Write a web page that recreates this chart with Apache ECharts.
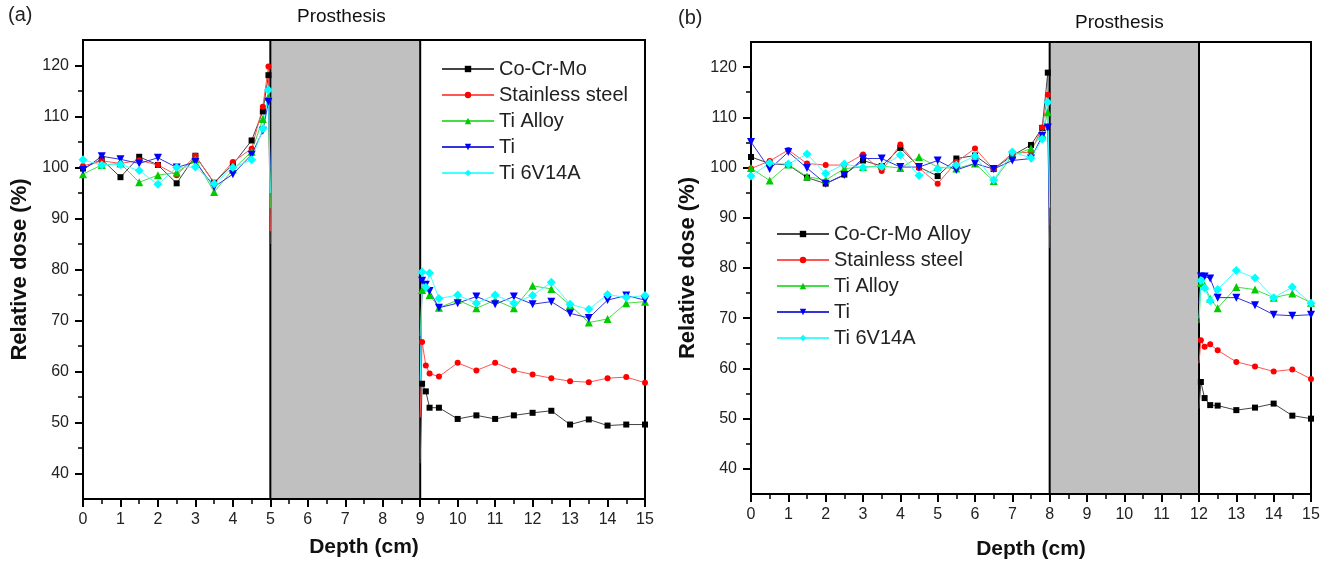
<!DOCTYPE html>
<html>
<head>
<meta charset="utf-8">
<script src="https://cdn.jsdelivr.net/npm/echarts@6/dist/echarts.min.js"></script>
<style>
html,body{margin:0;padding:0;background:#fff;}
#c{width:1330px;height:565px;}
</style>
</head>
<body>
<div id="c"></div>
<script>
// ---------- DATA ----------
// Panel (a): prosthesis 5-9 cm
const prosthesisA = [5, 9];
const xPreA  = [0, 0.5, 1, 1.5, 2, 2.5, 3, 3.5, 4, 4.5, 4.8, 4.95, 5];
const xPostA = [9, 9.05, 9.15, 9.25, 9.5, 10, 10.5, 11, 11.5, 12, 12.5, 13, 13.5, 14, 14.5, 15];
const coCrMoPreA   = [99.8, 101.6, 98.1, 102.1, 100.5, 96.9, 102.3, 97.0, 100.6, 105.3, 111.0, 118.1, 85.0];
const steelPreA    = [100.3, 101.3, 100.8, 101.4, 100.5, 98.5, 102.3, 97.0, 101.1, 103.7, 111.9, 119.8, 87.5];
const tiAlloyPreA  = [98.7, 100.5, 100.8, 97.1, 98.5, 99.0, 101.6, 95.2, 99.6, 103.1, 109.5, 113.8, 92.0];
const tiPreA       = [99.5, 102.2, 101.6, 100.8, 101.9, 100.0, 101.1, 96.2, 98.7, 102.5, 107.2, 112.9, 100.0];
const ti6PreA      = [101.5, 100.5, 100.6, 99.4, 96.7, 100.0, 100.1, 96.8, 100.0, 101.5, 107.6, 115.2, 95.0];
const coCrMoPostA  = [42.0, 57.6, 56.1, 52.9, 52.9, 50.7, 51.4, 50.7, 51.4, 51.9, 52.3, 49.6, 50.6, 49.4, 49.6, 49.6];
const steelPostA   = [51.0, 65.8, 61.2, 59.6, 59.0, 61.7, 60.2, 61.7, 60.2, 59.4, 58.7, 58.1, 57.9, 58.7, 58.9, 57.8];
const tiAlloyPostA = [67.0, 76.0, 76.5, 75.0, 72.5, 74.0, 72.4, 74.0, 72.4, 76.8, 76.2, 73.0, 69.6, 70.3, 73.4, 73.7];
const tiPostA      = [57.0, 77.8, 77.0, 75.8, 72.5, 73.4, 74.7, 73.2, 74.7, 73.2, 73.7, 71.4, 70.5, 74.0, 74.9, 74.0];
const ti6PostA     = [57.0, 79.5, 76.5, 79.3, 74.3, 75.0, 73.4, 75.0, 73.4, 74.9, 77.5, 73.2, 72.2, 75.1, 74.5, 74.9];

// Panel (b): prosthesis 8-12 cm
const prosthesisB = [8, 12];
const xPreB  = [0, 0.5, 1, 1.5, 2, 2.5, 3, 3.5, 4, 4.5, 5, 5.5, 6, 6.5, 7, 7.5, 7.8, 7.95, 8];
const xPostB = [12, 12.05, 12.15, 12.3, 12.5, 13, 13.5, 14, 14.5, 15];
const coCrMoPreB   = [102.1, 100.8, 100.5, 98.0, 96.8, 98.6, 101.4, 100.3, 103.9, 100.1, 98.3, 101.8, 102.4, 99.7, 102.4, 104.5, 107.9, 118.9, 95.0];
const steelPreB    = [99.8, 101.3, 103.5, 100.8, 100.5, 100.5, 102.6, 99.3, 104.6, 99.9, 96.8, 101.1, 103.8, 99.7, 102.8, 103.1, 108.0, 114.5, 88.4];
const tiAlloyPreB  = [99.9, 97.4, 100.6, 98.2, 97.5, 99.8, 100.1, 100.3, 99.9, 102.1, 100.1, 99.8, 100.8, 97.3, 102.4, 103.8, 106.7, 111.0, 90.0];
const tiPreB       = [105.1, 99.7, 103.1, 99.9, 96.8, 98.5, 101.8, 101.8, 100.1, 100.1, 101.4, 99.5, 100.8, 99.7, 101.4, 101.8, 106.3, 108.0, 84.0];
const ti6PreB      = [98.3, 100.9, 100.7, 102.7, 98.8, 100.7, 100.0, 100.2, 102.5, 98.4, 99.7, 100.5, 102.3, 97.5, 103.1, 101.9, 105.7, 113.0, 92.0];
const coCrMoPostB  = [52.0, 57.3, 54.1, 52.7, 52.6, 51.7, 52.2, 53.0, 50.6, 50.0];
const steelPostB   = [61.0, 65.6, 64.3, 64.8, 63.6, 61.3, 60.4, 59.4, 59.8, 57.9];
const tiAlloyPostB = [69.0, 77.0, 76.5, 73.9, 72.0, 76.2, 75.7, 74.1, 74.9, 73.1];
const tiPostB      = [73.0, 78.3, 78.3, 77.9, 74.1, 74.1, 72.6, 70.7, 70.5, 70.7];
const ti6PostB     = [70.0, 77.5, 76.0, 73.5, 75.7, 79.5, 78.0, 74.1, 76.2, 73.0];

const namesA = ['Co-Cr-Mo', 'Stainless steel', 'Ti Alloy', 'Ti', 'Ti 6V14A'];
const namesB = ['Co-Cr-Mo Alloy', 'Stainless steel', 'Ti Alloy', 'Ti', 'Ti 6V14A'];
const yMajorTicks = [40, 50, 60, 70, 80, 90, 100, 110, 120];
const yMinorTicks = [45, 55, 65, 75, 85, 95, 105, 115];
const xAxisLabel = 'Depth (cm)';
const yAxisLabel = 'Relative dose (%)';
const panelTitle = 'Prosthesis';

// ---------- STYLE ----------
const FONT = "'Liberation Sans', Arial, sans-serif";
const NARROW = "'Liberation Sans Narrow', 'Arial Narrow', 'Liberation Sans', sans-serif";
const styles = [
  {line: '#444444', mark: '#000000', symbol: 'rect', size: 6, rot: 0},
  {line: '#ff5555', mark: '#ff0000', symbol: 'circle', size: 6, rot: 0},
  {line: '#44dd44', mark: '#00cc00', symbol: 'triangle', size: 8, rot: 0},
  {line: '#3333dd', mark: '#0000ff', symbol: 'triangle', size: 8, rot: 180},
  {line: '#44ffff', mark: '#00ffff', symbol: 'diamond', size: 9, rot: 0}
];

// points lying on the prosthesis boundary are drawn without a marker
function zip(xs, ys, hideIndex) {
  return xs.map((x, i) => i === hideIndex ? {value: [x, ys[i]], symbol: 'none'} : [x, ys[i]]);
}

const seriesDefsA = [
  [coCrMoPreA, coCrMoPostA], [steelPreA, steelPostA], [tiAlloyPreA, tiAlloyPostA], [tiPreA, tiPostA], [ti6PreA, ti6PostA]
];
const seriesDefsB = [
  [coCrMoPreB, coCrMoPostB], [steelPreB, steelPostB], [tiAlloyPreB, tiAlloyPostB], [tiPreB, tiPostB], [ti6PreB, ti6PostB]
];

function makeSeries(defs, names, xPre, xPost, gi) {
  const out = [];
  defs.forEach((d, i) => {
    const s = styles[i];
    [[xPre, d[0], xPre.length - 1], [xPost, d[1], 0]].forEach(seg => {
      out.push({
        type: 'line', name: names[i], xAxisIndex: gi, yAxisIndex: gi * 2,
        data: zip(seg[0], seg[1], seg[2]),
        symbol: s.symbol, symbolSize: s.size, symbolRotate: s.rot, showSymbol: true,
        lineStyle: {color: s.line, width: 1},
        itemStyle: {color: s.mark},
        animation: false, z: 3
      });
    });
  });
  return out;
}

function prosthesisSeries(range, gi) {
  return {
    type: 'line', xAxisIndex: gi, yAxisIndex: gi * 2, data: [], silent: true, z: 10,
    markArea: {
      silent: true,
      itemStyle: {color: '#c0c0c0', borderColor: '#000', borderWidth: 2},
      data: [[{xAxis: range[0]}, {xAxis: range[1]}]]
    }
  };
}

const grids = [
  {left: 83, top: 40, width: 562, height: 459, show: true, borderColor: '#000', borderWidth: 2, backgroundColor: 'transparent'},
  {left: 751, top: 42, width: 560, height: 459, show: true, borderColor: '#000', borderWidth: 2, backgroundColor: 'transparent'}
];

function xAxisFor(gi, gap) {
  return {
    gridIndex: gi, type: 'value', min: 0, max: 15, interval: 1,
    name: xAxisLabel, nameLocation: 'middle', nameGap: gap,
    nameTextStyle: {fontFamily: FONT, fontSize: 21, fontWeight: 'bold', color: '#111'},
    axisLine: {show: true, onZero: false, lineStyle: {color: '#000', width: 2}},
    axisTick: {show: true, inside: false, length: 8, lineStyle: {color: '#000', width: 2}},
    minorTick: {show: true, splitNumber: 2, length: 5, lineStyle: {color: '#000', width: 1.5}},
    axisLabel: {fontFamily: NARROW, fontSize: 16, color: '#222', margin: 13},
    splitLine: {show: false}, minorSplitLine: {show: false}
  };
}

function yAxesFor(gi) {
  return [{
    gridIndex: gi, type: 'value', min: 35, max: 125,
    name: yAxisLabel, nameLocation: 'middle', nameGap: 52, nameRotate: 90,
    nameTextStyle: {fontFamily: FONT, fontSize: 22, fontWeight: 'bold', color: '#111'},
    axisLine: {show: true, onZero: false, lineStyle: {color: '#000', width: 2}},
    axisTick: {show: true, inside: false, length: 8, customValues: yMajorTicks, lineStyle: {color: '#000', width: 2}},
    axisLabel: {fontFamily: FONT, fontSize: 16, color: '#222', margin: 14, customValues: yMajorTicks},
    splitLine: {show: false}
  }, {
    gridIndex: gi, type: 'value', min: 35, max: 125, position: 'left',
    axisLine: {show: false},
    axisTick: {show: true, inside: false, length: 5, customValues: yMinorTicks, lineStyle: {color: '#000', width: 1.5}},
    axisLabel: {show: false, customValues: yMinorTicks},
    splitLine: {show: false}
  }];
}

function legendFor(names, left, top) {
  return {
    data: names, orient: 'vertical', left: left, top: top,
    itemWidth: 52, itemHeight: 8, itemGap: 6,
    textStyle: {fontFamily: FONT, fontSize: 20, color: '#222', lineHeight: 20},
    selectedMode: false, backgroundColor: 'transparent'
  };
}

const option = {
  backgroundColor: '#fff',
  animation: false,
  grid: grids,
  xAxis: [xAxisFor(0, 38), xAxisFor(1, 45)],
  yAxis: yAxesFor(0).concat(yAxesFor(1)),
  legend: [legendFor(namesA, 436, 54), legendFor(namesB, 771, 219)],
  graphic: [
    {type: 'text', left: 8, top: 5, style: {text: '(a)', font: '20px ' + FONT, fill: '#222'}},
    {type: 'text', left: 297, top: 7, style: {text: panelTitle, font: '19px ' + FONT, fill: '#111'}},
    {type: 'text', left: 678, top: 8, style: {text: '(b)', font: '20px ' + FONT, fill: '#222'}},
    {type: 'text', left: 1075, top: 13, style: {text: panelTitle, font: '19px ' + FONT, fill: '#111'}}
  ],
  series: []
    .concat(makeSeries(seriesDefsA, namesA, xPreA, xPostA, 0))
    .concat(makeSeries(seriesDefsB, namesB, xPreB, xPostB, 1))
    .concat([prosthesisSeries(prosthesisA, 0), prosthesisSeries(prosthesisB, 1)])
};

const chart = echarts.init(document.getElementById('c'), null, {renderer: 'canvas'});
chart.setOption(option);
</script>
</body>
</html>
